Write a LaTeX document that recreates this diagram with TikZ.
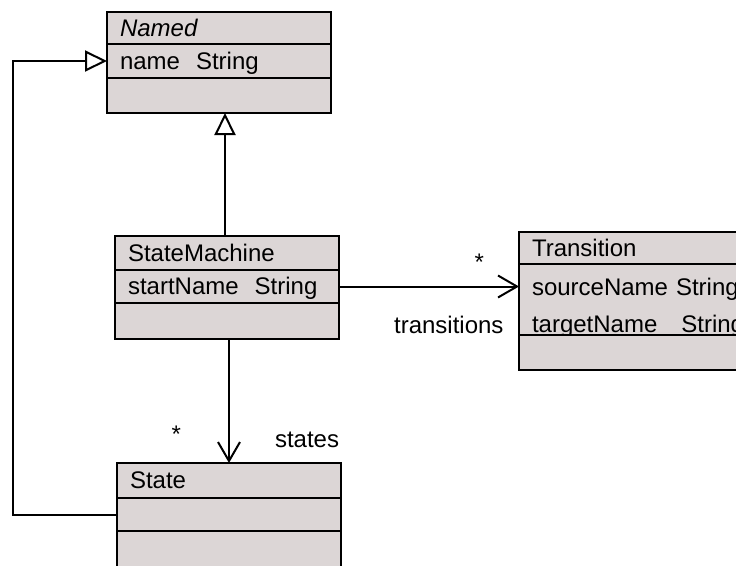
\documentclass[tikz,border=0pt]{standalone}
\usepackage{fontspec}
\setmainfont{Liberation Sans}
\usepackage{tikz}
\usetikzlibrary{arrows.meta,positioning}

\definecolor{classfill}{RGB}{220,214,214}

\tikzset{
  part/.style={draw, line width=2, fill=classfill, outer sep=0, inner xsep=13, inner ysep=0,
    text width=#1-26, align=left, minimum width=#1, anchor=north west,
    font=\fontsize{24}{37}\selectfont},
  part/.default=224,
  oneline/.style={text height=19, text depth=3},
  conn/.style={line width=2},
  inherit/.style={conn, -{Triangle[open, length=22, width=21, line width=2]}},
  assoc/.style={conn, -{Straight Barb[length=19, width=22, line width=2]}},
  lbl/.style={font=\fontsize{24}{28}\selectfont, inner sep=0}
}

\begin{document}
\begin{tikzpicture}[x=1pt, y=-1pt, node distance=0]

\clip (0,0) rectangle (736,565);

% Named

\node[part, oneline, minimum height=32] (named) at (107,12) {\itshape Named};
\node[part, oneline, minimum height=34, below=of named.south west, anchor=north west] (namedattr) {name\ \ String};
\node[part, minimum height=35, below=of namedattr.south west, anchor=north west] (namedops) {};

% StateMachine

\node[part, oneline, minimum height=34] (sm) at (115,236) {StateMachine};
\node[part, oneline, minimum height=33, below=of sm.south west, anchor=north west] (smattr) {startName\ \ String};
\node[part, minimum height=36, below=of smattr.south west, anchor=north west] (smops) {};

% Transition

\node[part=270, oneline, minimum height=32] (trans) at (519,232) {Transition};
\node[part=270, minimum height=71, text height=31, text depth=40, below=of trans.south west, anchor=north west] (transattr) {sourceName String\\targetName\ \ \ String};
\node[part=270, minimum height=35, below=of transattr.south west, anchor=north west] (transops) {};

% State

\node[part, oneline, minimum height=35] (state) at (117,463) {State};
\node[part, minimum height=33, below=of state.south west, anchor=north west] (stateattr) {};
\node[part, minimum height=50, below=of stateattr.south west, anchor=north west] (stateops) {};

% generalisations
\draw[inherit] ([xshift=-2]sm.north) -- ([xshift=-2]sm.north |- namedops.south);
\draw[inherit] (stateattr.west) -- ++(-104,0) |- (namedattr.west);

% associations (y axis points down, so below/above swap)
\draw[assoc] (smattr.east) -- node[lbl, pos=0.78, below=34] {*} node[lbl, pos=0.61, above=48] {transitions} (smattr.east -| trans.west);
\draw[assoc] (smops.south -| state.north) -- node[lbl, pos=0.77, left=47] {*} node[lbl, pos=0.81, right=45] {states} (state.north);

\end{tikzpicture}
\end{document}
